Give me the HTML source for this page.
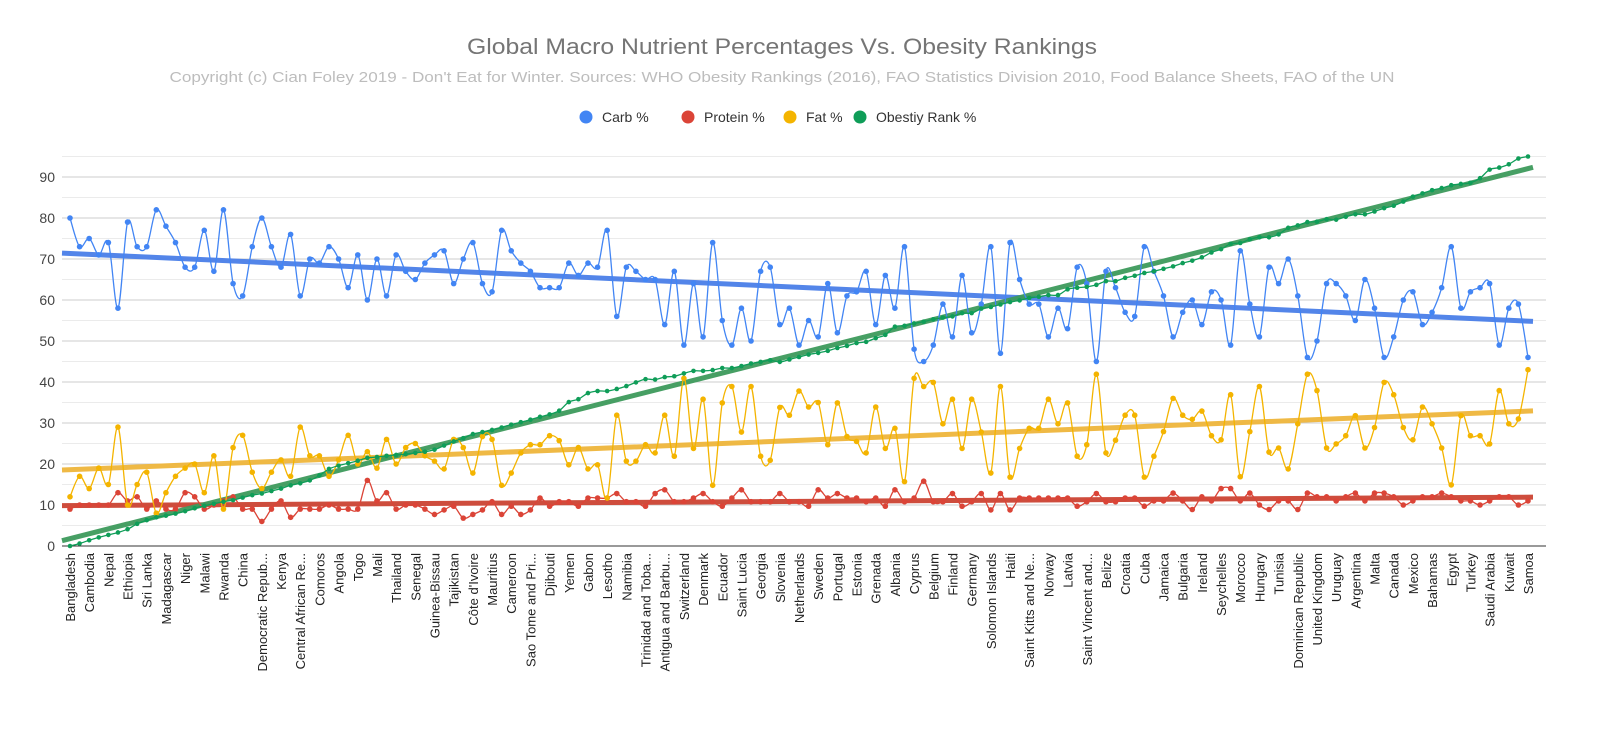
<!DOCTYPE html>
<html><head><meta charset="utf-8">
<style>
html,body{margin:0;padding:0;background:#fff;}
svg{display:block;font-family:"Liberation Sans",sans-serif;}
</style></head>
<body>
<svg id="chart" width="1600" height="739" viewBox="0 0 1600 739" xmlns="http://www.w3.org/2000/svg">
<rect width="1600" height="739" fill="#fff"/>
<text x="782" y="54" text-anchor="middle" font-size="22" fill="#757575" textLength="630" lengthAdjust="spacingAndGlyphs">Global Macro Nutrient Percentages Vs. Obesity Rankings</text>
<text x="782" y="82" text-anchor="middle" font-size="15" fill="#bdbdbd" textLength="1225" lengthAdjust="spacingAndGlyphs">Copyright (c) Cian Foley 2019 - Don't Eat for Winter. Sources: WHO Obesity Rankings (2016), FAO Statistics Division 2010, Food Balance Sheets, FAO of the UN</text>
<g id="legend"></g>
<g id="grid"></g>
<g id="yaxis"></g>
<g id="xaxis"></g>
<g id="trends"></g>
<g id="series"></g>
</svg>
<script>
const countries = ["Bangladesh","Cambodia","Nepal","Ethiopia","Sri Lanka","Madagascar","Niger","Malawi","Rwanda","China","Democratic Repub...","Kenya","Central African Re...","Comoros","Angola","Togo","Mali","Thailand","Senegal","Guinea-Bissau","Tajikistan","Côte d'Ivoire","Mauritius","Cameroon","Sao Tome and Pri...","Djibouti","Yemen","Gabon","Lesotho","Namibia","Trinidad and Toba...","Antigua and Barbu...","Switzerland","Denmark","Ecuador","Saint Lucia","Georgia","Slovenia","Netherlands","Sweden","Portugal","Estonia","Grenada","Albania","Cyprus","Belgium","Finland","Germany","Solomon Islands","Haiti","Saint Kitts and Ne...","Norway","Latvia","Saint Vincent and...","Belize","Croatia","Cuba","Jamaica","Bulgaria","Ireland","Seychelles","Morocco","Hungary","Tunisia","Dominican Republic","United Kingdom","Uruguay","Argentina","Malta","Canada","Mexico","Bahamas","Egypt","Turkey","Saudi Arabia","Kuwait","Samoa"];
const yTicks = [0,10,20,30,40,50,60,70,80,90];
const carb = [80,73,75,71,74,58,79,73,73,82,78,74,68,68,77,67,82,64,61,73,80,73,68,76,61,70,69,73,70,63,71,60,70,61,71,67,65,69,
71,72,64,70,74,64,62,77,72,69,67,63,63,63,69,66,69,68,77,56,68,67,65,65,54,67,49,64,51,74,55,49,58,50,67,68,54,58,
49,55,51,64,52,61,62,67,54,66,58,73,48,45,49,59,51,66,52,59,73,47,74,65,59,59,51,58,53,68,64,45,67,63,57,56,73,
67,61,51,57,60,54,62,60,49,72,59,51,68,64,70,61,46,50,64,64,61,55,65,58,46,51,60,62,54,57,63,73,58,62,63,64,49,58,59,46];
const protein = [9,10,10,10,10,13,11,12,9,11,9,9,13,12,9,10,11,12,9,9,6,9,11,7,9,9,9,10,9,9,9,16,11,13,9,10,10,9,
7.7,8.8,9.7,6.8,7.7,8.8,10.8,7.7,9.7,7.7,8.8,11.7,9.7,10.8,10.8,9.7,11.7,11.7,11.7,12.8,10.8,10.8,9.7,12.8,13.7,10.8,10.8,11.7,12.8,10.8,9.7,11.7,13.7,10.8,10.8,10.8,12.8,10.8,
10.8,9.7,13.7,11.7,12.8,11.7,11.7,10.8,11.7,9.7,13.7,10.8,11.7,15.8,10.8,10.8,12.8,9.7,10.8,12.8,8.8,12.8,8.8,11.7,11.7,11.7,11.7,11.7,11.7,9.7,10.8,12.8,10.8,10.8,11.7,11.7,9.7,
11,11,12.9,11,8.9,12,11,14,14,11,12.9,10,8.9,11,11,8.9,12.9,12,12,11,12,12.9,11,12.9,12.9,12,10,11,12,12,12.9,12,11,11,10,11,12,12,10,11];
const fat = [12,17,14,19,15,29,10,15,18,8,13,17,19,20,13,22,9,24,27,18,14,18,21,17,29,22,22,17,21,27,20,23,19,26,20,24,25,22,
20.7,18.8,26,24,17.8,26.7,26,14.8,17.8,22.7,24.7,24.7,26.9,25.7,19.8,24,18.8,19.8,11.7,31.9,20.7,20.7,24.7,22.7,31.9,21.9,40.9,23.8,35.8,14.8,34.9,38.9,27.8,38.9,21.9,20.9,33.8,31.9,
37.8,33.9,35,24.7,34.9,26.7,25.5,22.7,33.9,23.8,28.7,15.7,40.9,38.9,39.9,29.8,35.8,23.8,35.8,27.8,17.8,38.9,16.8,23.8,28.7,28.7,35.8,29.8,34.9,21.9,24.7,41.9,22.7,25.8,31.9,31.9,16.8,
21.9,27.9,36,31.9,30.9,32.9,26.9,25.9,36.9,16.9,27.9,38.9,22.9,23.9,18.8,29.8,41.9,37.9,23.9,24.9,26.9,31.8,23.9,28.9,39.9,36.9,28.9,25.9,33.9,29.8,23.9,14.9,31.8,26.9,26.9,24.9,37.9,29.8,31,43];
const obesity = [0,0.6,1.4,2.1,2.7,3.3,4.1,5.4,6.3,7.0,7.4,7.9,8.5,9.2,9.8,10.3,10.8,11.2,11.8,12.4,12.8,13.4,14.0,14.8,15.3,16.0,17.2,18.8,19.6,20.2,20.8,21.5,21.7,22.0,22.2,22.4,22.7,23.0,
23.5,24.5,25.5,26.3,27.3,27.8,28.3,28.9,29.6,30.2,30.8,31.5,32.1,33,35.1,35.8,37.3,37.8,37.8,38.3,39.0,39.9,40.7,40.6,41.2,41.4,42.1,42.7,42.7,42.9,43.4,43.4,43.9,44.5,44.9,45.3,44.9,45.5,
46.1,46.7,47.1,47.6,48.3,48.8,49.5,49.8,50.7,51.5,53.5,53.7,54.3,54.7,55.3,55.7,56,56.8,56.8,57.9,58.3,58.9,59.5,59.9,60.5,60.8,61.2,61.2,62.6,63.0,63.2,63.7,64.6,64.6,65.4,65.9,66.6,
67,67.6,68.2,69,69.6,70.4,71.6,72.4,73.7,73.9,74.8,75.3,75.3,76,77.6,78.2,79,79.1,79.7,79.6,80.3,80.9,80.9,81.6,82.4,83,84,85.2,86,86.8,87.3,88,88.3,88.6,89.7,91.8,92.3,93.1,94.5,95];

const NS='http://www.w3.org/2000/svg';
const X0=70, X1=1528, Y0=546, PX_PER=4.1;
const N=carb.length;
function xPos(i){return X0+(X1-X0)*i/(N-1);}
function yPos(v){return Y0-v*PX_PER;}
function mk(tag,attrs,parent){const e=document.createElementNS(NS,tag);for(const k in attrs)e.setAttribute(k,attrs[k]);parent.appendChild(e);return e;}

const grid=document.getElementById('grid');
for(let v=0;v<=95;v+=5){
  const l=mk('line',{x1:62,x2:1546,y1:yPos(v),y2:yPos(v),stroke:v%10===0?'#cccccc':'#ebebeb','stroke-width':1},grid);
  
  
}
const yax=document.getElementById('yaxis');
yTicks.forEach(v=>{
  const t=mk('text',{x:55,y:yPos(v)+5,'text-anchor':'end','font-size':14,fill:'#444'},yax);
  t.textContent=v;
  
  
});
const base=mk('line',{x1:62,x2:1546,y1:Y0,y2:Y0,stroke:'#333','stroke-width':1},yax);



const xax=document.getElementById('xaxis');
countries.forEach((c,k)=>{
  const x=xPos(k*2)+5;
  const t=mk('text',{transform:`translate(${x},553) rotate(-90)`,'text-anchor':'end','font-size':13,fill:'#222'},xax);
  t.textContent=c;
  
  
});

const seriesDefs=[
  {name:'carb',label:'Carb %',data:carb,color:'#4285f4',trend:'#4a7fe8',r:2.8},
  {name:'protein',label:'Protein %',data:protein,color:'#db4437',trend:'#cc4433',r:2.8},
  {name:'fat',label:'Fat %',data:fat,color:'#f4b400',trend:'#efb63c',r:2.8},
  {name:'obesity',label:'Obestiy Rank %',data:obesity,color:'#0f9d58',trend:'#3e9a5c',r:2.3}
];
function smoothPath(pts){
  let d=`M${pts[0][0]},${pts[0][1]}`;
  for(let i=0;i<pts.length-1;i++){
    const p0=pts[i-1]||pts[i],p1=pts[i],p2=pts[i+1],p3=pts[i+2]||p2;
    const t=0.5/3;
    const c1=[p1[0]+(p2[0]-p0[0])*t,p1[1]+(p2[1]-p0[1])*t];
    const c2=[p2[0]-(p3[0]-p1[0])*t,p2[1]-(p3[1]-p1[1])*t];
    d+=` C${c1[0].toFixed(1)},${c1[1].toFixed(1)} ${c2[0].toFixed(1)},${c2[1].toFixed(1)} ${p2[0].toFixed(1)},${p2[1].toFixed(1)}`;
  }
  return d;
}
const sg=document.getElementById('series'), tg=document.getElementById('trends');
seriesDefs.forEach(s=>{
  const pts=s.data.map((v,i)=>[xPos(i),yPos(v)]);
  const g=mk('g',{},sg);
  
  
  const p=mk('path',{d:smoothPath(pts),fill:'none',stroke:s.color,'stroke-width':1.3},g);
  
  
  pts.forEach(q=>{
    const c=mk('circle',{cx:q[0],cy:q[1],r:s.r,fill:s.color},g);
    
    
  });
  // linear regression trendline
  let sx=0,sy=0,sxx=0,sxy=0;
  s.data.forEach((v,i)=>{sx+=i;sy+=v;sxx+=i*i;sxy+=i*v;});
  const m=(N*sxy-sx*sy)/(N*sxx-sx*sx), b=(sy-m*sx)/N;
  const iA=(62-X0)/((X1-X0)/(N-1)), iB=(1533-X0)/((X1-X0)/(N-1));
  const tl=mk('line',{x1:62,y1:yPos(m*iA+b),x2:1533,y2:yPos(m*iB+b),stroke:s.trend,'stroke-width':5,opacity:0.95},tg);
  
  
});
// draw trendlines under series but series order: move obesity trend above others? keep
const lg=document.getElementById('legend');
const legendX=[586,688,790,860];
seriesDefs.forEach((s,k)=>{
  const g=mk('g',{},lg);
  
  
  mk('circle',{cx:legendX[k],cy:117,r:6.5,fill:s.color},g);
  const t=mk('text',{x:legendX[k]+16,y:122,'font-size':14,fill:'#333'},g);
  t.textContent=s.label;
});
</script>
</body></html>
